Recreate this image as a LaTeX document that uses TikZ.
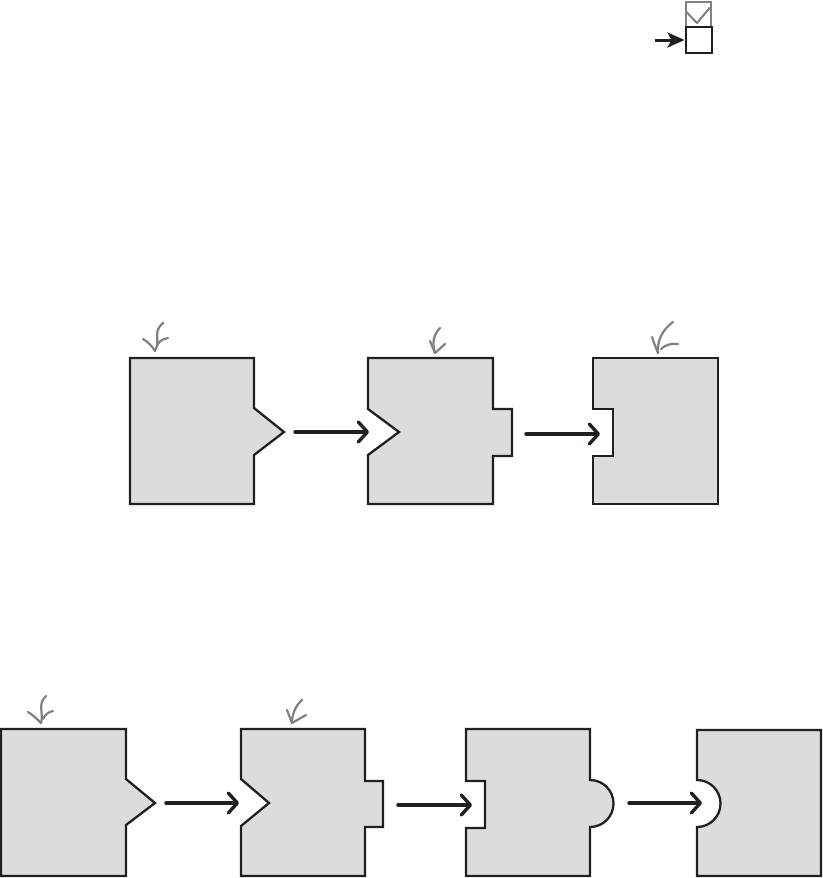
\documentclass[tikz,border=0pt]{standalone}
\usetikzlibrary{arrows.meta}
\definecolor{fillgray}{HTML}{DCDCDC}
\definecolor{pen}{HTML}{231F20}
\definecolor{hand}{HTML}{808080}
\tikzset{
  block/.style={draw=pen, line width=2.3pt, fill=fillgray, line join=miter},
  flow/.style={draw=pen, line width=3.4pt, line cap=round,
    -{Straight Barb[length=9pt,width=20pt,line cap=round,line join=round]}},
  hint/.style={draw=hand, line width=2.2pt, line cap=round, line join=round},
}
\begin{document}
\begin{tikzpicture}[x=1pt,y=-1pt]
\useasboundingbox (0,0) rectangle (822,878);

% ---- legend icon ----
\draw[draw=hand, line width=2pt] (686,1.5) rectangle (711,27);
\draw[hint, line cap=butt, line width=2pt] (686.5,12) -- (697,23) -- (710,7.5);
\node[draw=pen, line width=2pt, minimum width=26pt, minimum height=26pt, inner sep=0pt] (box) at (698.5,40) {};
\coordinate (boxin) at (655,40);
\draw[draw=pen, line width=3pt, -{Stealth[length=17pt,width=15pt,inset=4pt]}] (boxin) -- (box.west);

% ---- row 1 ----
\draw[block] (130,358) -- (254,358) -- (254,408) -- (284,432) -- (254,455) -- (254,504) -- (130,504) -- cycle;
\draw[block] (368,358) -- (493,358) -- (493,409) -- (512,409) -- (512,456) -- (493,456) -- (493,504) -- (368,504) -- (368,455) -- (399,432) -- (368,409) -- cycle;
\draw[block] (593,358) -- (718,358) -- (718,504) -- (593,504) -- (593,456) -- (613,456) -- (613,409) -- (593,409) -- cycle;

\coordinate (a1s) at (295,432); \coordinate (a1e) at (369,432);
\coordinate (a2s) at (526,434); \coordinate (a2e) at (600,434);
\draw[flow] (a1s) -- (a1e);
\draw[flow] (a2s) -- (a2e);

% hand-drawn hints row 1
\coordinate (hA) at (155,351);
\draw[hint] (163,323) .. controls (152,332) and (161,340) .. (hA);
\draw[hint] (143,339) .. controls (148,342) and (152,346) .. (hA);
\draw[hint] (168,338) .. controls (162,339) and (158,342) .. (157,346);
\coordinate (hB) at (435,353);
\draw[hint] (440,328) .. controls (433,335) and (432,344) .. (hB);
\draw[hint] (430,341) -- (hB) -- (445,344);
\coordinate (hC) at (658,353);
\draw[hint] (673,322) .. controls (662,330) and (657,341) .. (hC);
\draw[hint] (652,337) .. controls (654,343) and (656,348) .. (hC);
\draw[hint] (678,344) .. controls (671,343) and (665,345) .. (661,349);

% ---- row 2 ----
\draw[block] (1,729) -- (126,729) -- (126,779) -- (155,803) -- (126,825) -- (126,876) -- (1,876) -- cycle;
\draw[block] (241,729) -- (365,729) -- (365,781) -- (383,781) -- (383,827) -- (365,827) -- (365,876) -- (241,876) -- (241,826) -- (269,803) -- (241,779) -- cycle;
\draw[block] (466,729) -- (590,729) -- (590,780)
  .. controls (603,780) and (613.5,790.5) .. (613.5,803.5)
  .. controls (613.5,816.5) and (603,827) .. (590,827)
  -- (590,876) -- (466,876) -- (466,828) -- (485,828) -- (485,781) -- (466,781) -- cycle;
\draw[block] (697,730) -- (821,730) -- (821,876) -- (697,876) -- (697,827)
  .. controls (710,827) and (720.5,816.5) .. (720.5,803.5)
  .. controls (720.5,790.5) and (710,780) .. (697,780) -- cycle;

\coordinate (b1s) at (166,803); \coordinate (b1e) at (239,803);
\coordinate (b2s) at (398,805); \coordinate (b2e) at (472,805);
\coordinate (b3s) at (629,803); \coordinate (b3e) at (702,803);
\draw[flow] (b1s) -- (b1e);
\draw[flow] (b2s) -- (b2e);
\draw[flow] (b3s) -- (b3e);

% hand-drawn hints row 2
\coordinate (hD) at (41,723);
\draw[hint] (46,696) .. controls (37,704) and (44,713) .. (hD);
\draw[hint] (28,712) .. controls (33,715) and (37,719) .. (hD);
\draw[hint] (53,711) .. controls (48,712) and (45,715) .. (43,719);
\coordinate (hE) at (292,723);
\draw[hint] (302,700) .. controls (295,706) and (292,715) .. (hE);
\draw[hint] (287,710) -- (hE) -- (306,715);
\end{tikzpicture}
\end{document}
